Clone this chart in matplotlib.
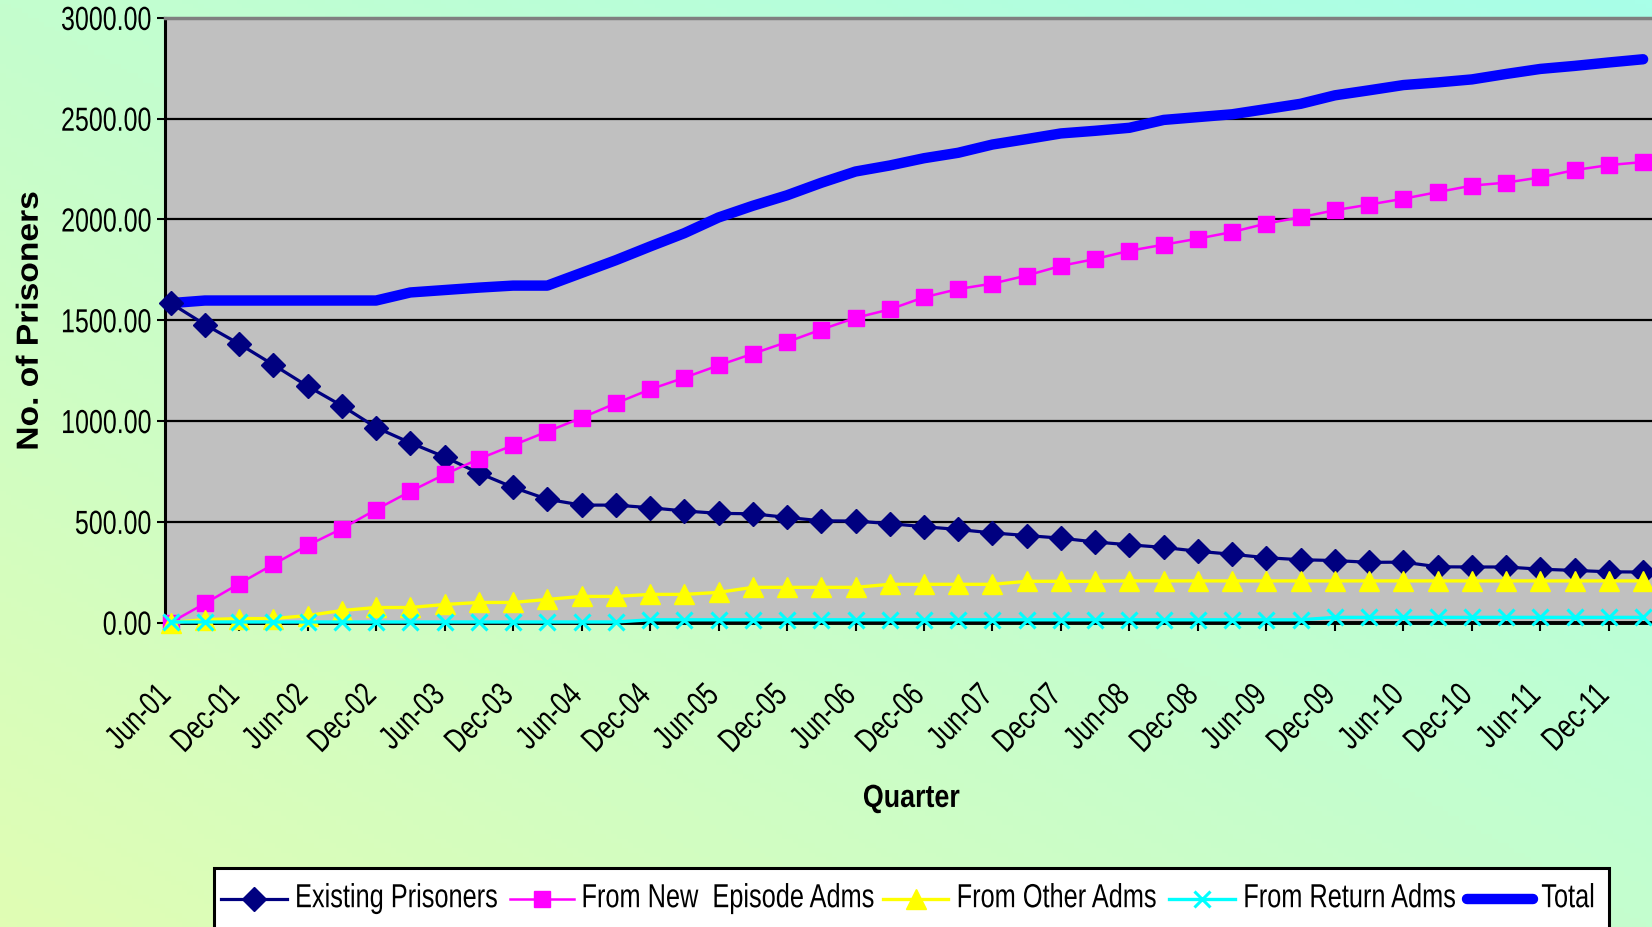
import numpy as np
import matplotlib
matplotlib.use("Agg")
import matplotlib.pyplot as plt
from matplotlib.colors import LinearSegmentedColormap
from matplotlib.transforms import ScaledTranslation, Affine2D
from matplotlib.patheffects import AbstractPathEffect
from matplotlib.lines import Line2D
from matplotlib.patches import Rectangle

# quarters Jun-01 .. Mar-12
quarters = []
for yr in range(1, 13):
    for mon in ["Mar", "Jun", "Sep", "Dec"]:
        quarters.append(f"{mon}-{yr:02d}")
quarters = quarters[1:45]

existing = [1585, 1479, 1383, 1279, 1173, 1076, 968, 892, 822, 742, 671, 612, 583, 583,
            570, 554, 542, 540, 522, 505, 504, 491, 476, 462, 445, 432, 419, 400, 386, 373,
            354, 339, 322, 312, 308, 299, 300, 277, 276, 276, 265, 259, 252, 251]
new_episode = [0, 95, 193, 289, 383, 466, 561, 651, 735, 812, 880, 948, 1016, 1088, 1157,
               1215, 1276, 1334, 1392, 1454, 1512, 1554, 1614, 1655, 1682, 1722, 1770, 1804,
               1845, 1875, 1905, 1938, 1980, 2011, 2046, 2074, 2103, 2136, 2168, 2183, 2209,
               2245, 2270, 2285]
other_adms = [0, 15, 20, 20, 35, 60, 75, 75, 90, 100, 100, 115, 130, 130, 140, 140, 150, 175,
              175, 175, 175, 190, 190, 190, 190, 205, 205, 205, 207, 207, 207, 207, 207, 207,
              207, 207, 207, 207, 207, 207, 207, 207, 207, 207]
return_adms = [3, 3, 3, 3, 3, 3, 3, 3, 3, 3, 3, 3, 3, 3, 14, 14, 14, 14, 14, 14, 14, 14, 14,
               14, 14, 14, 14, 14, 14, 14, 14, 14, 14, 14, 26, 26, 26, 26, 26, 26, 26, 26, 26, 26]
total = [1585, 1598, 1598, 1598, 1598, 1598, 1598, 1638, 1650, 1662, 1672, 1672, 1735, 1798,
         1866, 1932, 2010, 2068, 2120, 2182, 2238, 2268, 2304, 2331, 2372, 2399, 2427, 2440,
         2455, 2494, 2508, 2522, 2548, 2574, 2616, 2641, 2667, 2680, 2695, 2722, 2747, 2762,
         2779, 2795]

series_names = ["Existing Prisoners", "From New  Episode Adms", "From Other Adms",
                "From Return Adms", "Total"]


class Squeeze(AbstractPathEffect):
    """squeeze text along its own direction (Excel's narrow Arial look)"""
    def __init__(self, sx, align="left"):
        super().__init__()
        self.sx = sx
        self.align = align

    def draw_path(self, renderer, gc, tpath, affine, rgbFace=None):
        ext = tpath.get_extents()
        piv = {"left": 0.0, "center": ext.x1 / 2.0, "right": ext.x1}[self.align]
        pre = Affine2D().translate(-piv, 0).scale(self.sx, 1).translate(piv, 0)
        renderer.draw_path(gc, tpath, pre + affine, rgbFace)


plt.rcParams["font.family"] = ["Liberation Sans", "DejaVu Sans"]
FS = 24
SX = 0.75

fig = plt.figure(figsize=(16.52, 9.28), dpi=100)

# background gradient
bg = fig.add_axes([0, 0, 1, 1], zorder=-10)
gx, gy = np.meshgrid(np.linspace(0, 1, 300), np.linspace(0, 1, 200))
grad = 0.5 * (gx + gy)
cmap = LinearSegmentedColormap.from_list("bg", ["#E0FDB4", "#C4FECE", "#A8FFE8"])
bg.imshow(grad, cmap=cmap, origin="lower", aspect="auto", extent=[0, 1, 0, 1])
bg.axis("off")

ax = fig.add_axes([0.1001, 0.328, 0.8999, 0.6516])
ax.set_facecolor("#C0C0C0")
x = np.arange(len(quarters))

styles = [
    dict(color="#000080", lw=2.3, marker="D", ms=12),
    dict(color="#FF00FF", lw=1.8, marker="s", ms=11, mfc="#FF00FF", mec="#FF00FF"),
    dict(color="#FFFF00", lw=2.4, marker="^", ms=14),
    dict(color="#00FFFF", lw=2.4, marker="x", ms=12, mew=2.2),
    dict(color="#0000FF", lw=7.5, solid_capstyle="round"),
]

ax.plot(x, total, zorder=2, clip_on=False, **styles[4])
ax.plot(x, existing, zorder=3, clip_on=False, **styles[0])
ax.plot(x, new_episode, zorder=3, clip_on=False, **styles[1])
ax.plot(x, other_adms, zorder=3, clip_on=False, **styles[2])
ax.plot(x, return_adms, zorder=3, clip_on=False, **styles[3])

ax.set_xlim(-0.154, 43.26)
ax.set_ylim(0, 3000)
ax.set_yticks(np.arange(0, 3001, 500))
ax.set_yticklabels([f"{v:.2f}" for v in np.arange(0, 3001, 500)], fontsize=FS)
ax.yaxis.grid(True, color="black", lw=1.6)
ax.set_axisbelow(True)

ax.set_xticks(x[::2])
ax.set_xticklabels(quarters[::2], rotation=45, ha="right", va="top",
                   rotation_mode="anchor", fontsize=FS)
ax.tick_params(axis="x", length=6, width=1.5, pad=35)
ax.tick_params(axis="y", length=6, width=1.5, pad=4)
for lab in ax.get_xticklabels():
    lab.set_transform(lab.get_transform() + ScaledTranslation(-0.15, 0, fig.dpi_scale_trans))
    lab.set_path_effects([Squeeze(SX, "right")])
for lab in ax.get_yticklabels():
    lab.set_path_effects([Squeeze(SX, "right")])

ax.spines["right"].set_visible(False)
ax.spines["top"].set_color("#808080")
ax.spines["top"].set_linewidth(2.5)
ax.spines["left"].set_linewidth(2.2)
ax.spines["bottom"].set_linewidth(2.8)

fig.text(0.018, 0.653, "No. of Prisoners", fontsize=22, fontweight="bold", rotation=90,
         ha="center", va="center", path_effects=[Squeeze(1.1, "center")])
fig.text(0.5517, 0.138, "Quarter", fontsize=23, fontweight="bold", ha="center", va="center",
         path_effects=[Squeeze(0.84, "center")])

# legend, laid out by hand like the Excel one
fig.patches.append(Rectangle((0.1295, -0.05), 0.8445, 0.1136, transform=fig.transFigure,
                             facecolor="white", edgecolor="black", lw=2.2, zorder=5))
leg_y = 0.0305
leg_x = [(0.1339, 0.1735), (0.3087, 0.3476), (0.5344, 0.5740), (0.7079, 0.7474),
         (0.8878, 0.9280)]
text_x = [0.1786, 0.3520, 0.5791, 0.7526, 0.9330]
for i in range(len(series_names)):
    x0, x1 = leg_x[i]
    st = dict(styles[i])
    mk = st.pop("marker", None)
    ms = st.pop("ms", None)
    extra = {k: st.pop(k) for k in ["mfc", "mec", "mew"] if k in st}
    fig.lines.append(Line2D([x0, x1], [leg_y, leg_y], transform=fig.transFigure, zorder=6,
                            **st))
    if mk is not None:
        fig.lines.append(Line2D([(x0 + x1) / 2], [leg_y], transform=fig.transFigure,
                                marker=mk, ms=ms, color=st["color"], zorder=6, **extra))
    fig.text(text_x[i], leg_y, series_names[i], fontsize=FS, ha="left", va="center",
             zorder=7, path_effects=[Squeeze(0.76, "left")])

fig.savefig("out.png", dpi=100)
